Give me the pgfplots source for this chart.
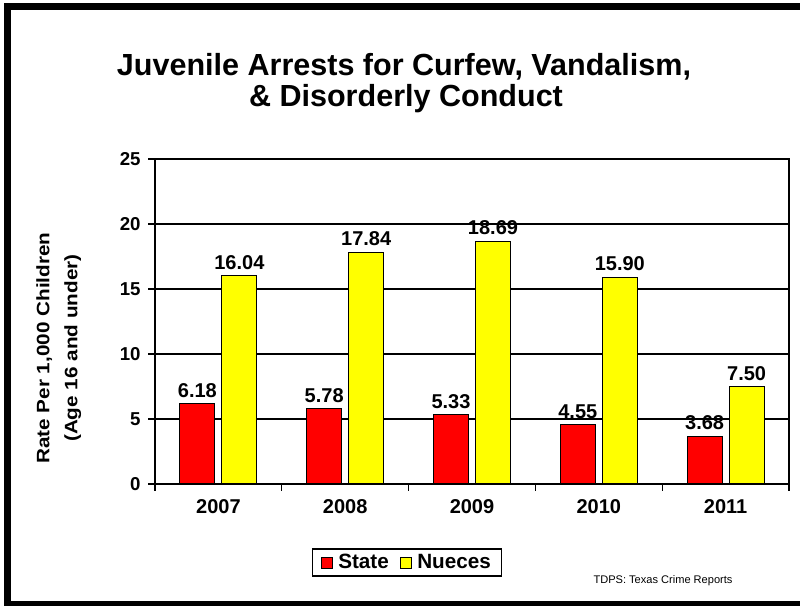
\documentclass[border=0pt]{standalone}
\usepackage{fontspec}
\setmainfont{Liberation Sans}
\newfontfamily\ylabfont[FakeStretch=1.15]{Liberation Sans}
\usepackage{pgfplots}
\pgfplotsset{compat=1.18}
\definecolor{barred}{RGB}{255,0,0}
\definecolor{baryellow}{RGB}{255,255,0}
\begin{document}
\begin{tikzpicture}[x=0.75pt,y=0.75pt]
\useasboundingbox (0,0) rectangle (800,606);
\draw[line width=5.25pt] (830,599.5) -- (7.5,599.5) -- (7.5,1) -- (830,1);
\node[anchor=base,font=\fontsize{22.9}{24}\selectfont\bfseries] at (404,530) {Juvenile Arrests for Curfew, Vandalism,};
\node[anchor=base,font=\fontsize{22.9}{24}\selectfont\bfseries] at (406,499) {\& Disorderly Conduct};
\node[anchor=center,font=\fontsize{8.3}{9}\selectfont] at (663,25) {TDPS: Texas Crime Reports};
\coordinate (O) at (155,122);
\begin{axis}[
  at={(O)}, anchor=south west,
  scale only axis, width=475.5pt, height=243.75pt,
  xmin=-0.5, xmax=4.5, ymin=0, ymax=25,
  ybar=5.25pt, bar width=26.25pt,
  /pgf/number format/assume math mode=true,
  axis line style={line width=0.9pt, black},
  ymajorgrids, grid style={line width=0.9pt, black},
  ytick={0,5,10,15,20,25},
  xtick={0,1,2,3,4},
  xticklabels={2007,2008,2009,2010,2011},
  minor xtick={-0.5,0.5,1.5,2.5,3.5,4.5},
  tick align=outside,
  major tick length=5.25pt, minor tick length=5.25pt,
  major x tick style={draw=none},
  tick style={line width=0.9pt, black},
  xtick pos=bottom, ytick pos=left,
  yticklabel style={font=\fontsize{14}{14}\selectfont\bfseries, xshift=-2pt},
  xticklabel style={font=\fontsize{15}{15}\selectfont\bfseries, yshift=-3pt},
  ylabel={\ylabfont\bfseries Rate Per 1,000 Children\\\ylabfont\bfseries(Age 16 and under)},
  ylabel style={at={(axis description cs:-0.152,0.418)}, anchor=center, align=center, font=\fontsize{13.5}{21}\selectfont},
  nodes near coords,
  every node near coord/.append style={font=\fontsize{15}{15}\selectfont\bfseries, /pgf/number format/fixed, /pgf/number format/fixed zerofill, /pgf/number format/precision=2, yshift=1pt},
  legend columns=2,
  legend style={at={(axis description cs:0.3975,-0.2415)}, anchor=center, draw=black, line width=0.9pt,
    font=\fontsize{15.5}{16}\selectfont\bfseries, /tikz/every even column/.append style={column sep=6pt},
    inner xsep=6pt, inner ysep=2pt},
  legend image code/.code={\draw[#1, draw=black, line width=0.6pt] (0pt,-4.1pt) rectangle (8.25pt,4.1pt); \path[draw=none, fill=none] (0pt,0pt) -- (11pt,0pt);},
]
\addplot[fill=barred, draw=black, line width=0.75pt] coordinates {(0,6.18) (1,5.78) (2,5.33) (3,4.55) (4,3.68)};
\addplot[fill=baryellow, draw=black, line width=0.75pt] coordinates {(0,16.04) (1,17.84) (2,18.69) (3,15.90) (4,7.50)};
\legend{State, Nueces}
\end{axis}
\end{tikzpicture}
\end{document}
